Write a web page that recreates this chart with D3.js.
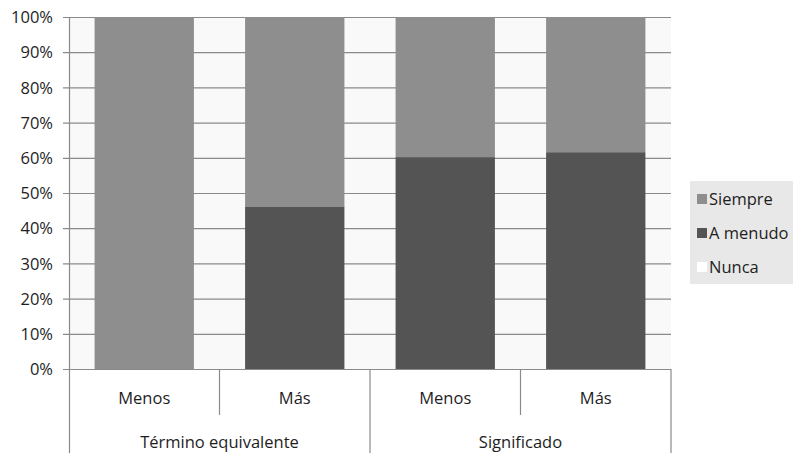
<!DOCTYPE html>
<html><head><meta charset="utf-8">
<script src="https://cdn.jsdelivr.net/npm/d3@7"></script>
<style>body{margin:0;background:#fff}svg{display:block}text{font-family:"Open Sans","Liberation Sans",sans-serif;fill:#1e1e1e}</style>
</head><body><svg id="c" width="793" height="453"></svg>
<script>
const categories = ["Menos", "Más", "Menos", "Más"];
const groups = ["Término equivalente", "Significado"];
const groupOf = [0, 0, 1, 1];
const nunca = [0, 0, 0, 0];
const aMenudo = [0, 46.2, 60.2, 61.6];
const siempre = [100, 53.8, 39.8, 38.4];
const seriesNames = ["Nunca", "A menudo", "Siempre"];
const yTicks = [0, 10, 20, 30, 40, 50, 60, 70, 80, 90, 100];
const colors = {"Nunca": "#ffffff", "A menudo": "#545454", "Siempre": "#8e8e8e"};

const svg = d3.select("#c");
const L = 69, R = 671, T = 17, B = 369;
const FS = "16.5px";
const x = d3.scaleBand().domain(d3.range(categories.length)).range([L, R]).paddingInner(0.34).paddingOuter(0.17);
const y = d3.scaleLinear().domain([0, 100]).range([B, T]);

svg.append("rect").attr("x", L).attr("y", T).attr("width", R - L).attr("height", B - T).attr("fill", "#f9f9f9");

// gridlines
svg.append("g").selectAll("line").data(yTicks).join("line")
  .attr("x1", L - 6).attr("x2", R).attr("y1", d => y(d) + 0.5).attr("y2", d => y(d) + 0.5)
  .attr("stroke", "#8a8a8a").attr("stroke-width", 1.2);

// stacked bars
const data = categories.map((c, i) => ({i, "Nunca": nunca[i], "A menudo": aMenudo[i], "Siempre": siempre[i]}));
const stack = d3.stack().keys(seriesNames)(data);
svg.append("g").selectAll("g").data(stack).join("g").attr("fill", s => colors[s.key])
  .selectAll("rect").data(s => s).join("rect")
  .attr("x", d => x(d.data.i)).attr("width", x.bandwidth())
  .attr("y", d => y(d[1])).attr("height", d => y(d[0]) - y(d[1]));

// y labels
const yAxis = d3.axisLeft(y).tickValues(yTicks).tickSize(0).tickPadding(16).tickFormat(d => d + "%");
const ya = svg.append("g").attr("transform", `translate(${L},0)`).call(yAxis);
ya.select(".domain").remove();
ya.selectAll("text").style("font-size", FS).style("font-family", "'Open Sans','Liberation Sans',sans-serif").attr("fill", "#1e1e1e").attr("dy", "0.35em");

// left axis line
svg.append("line").attr("x1", L + 0.5).attr("x2", L + 0.5).attr("y1", T).attr("y2", 453).attr("stroke", "#8a8a8a").attr("stroke-width", 1.2);

// category separators
const catEdges = d3.range(categories.length + 1).map(k => L + k * (R - L) / categories.length);
catEdges.forEach((cx, k) => {
  if (k === 0) return;
  const isGroup = k === categories.length || groupOf[k] !== groupOf[k - 1];
  svg.append("line").attr("x1", cx).attr("x2", cx).attr("y1", B).attr("y2", isGroup ? 453 : 415)
    .attr("stroke", "#8a8a8a").attr("stroke-width", 1.2);
});

// category labels
svg.append("g").selectAll("text").data(categories).join("text")
  .attr("x", (d, i) => x(i) + x.bandwidth() / 2).attr("y", 404)
  .attr("text-anchor", "middle").style("font-size", FS).text(d => d);

// group labels
groups.forEach((g, gi) => {
  const idx = categories.map((c, i) => i).filter(i => groupOf[i] === gi);
  const x0 = catEdges[idx[0]], x1 = catEdges[idx[idx.length - 1] + 1];
  svg.append("text").attr("x", (x0 + x1) / 2).attr("y", 448).attr("text-anchor", "middle")
    .style("font-size", FS).text(g);
});

// legend
const lg = svg.append("g");
lg.append("rect").attr("x", 690).attr("y", 181).attr("width", 103).attr("height", 103).attr("fill", "#e8e8e8");
const legItems = ["Siempre", "A menudo", "Nunca"];
legItems.forEach((k, i) => {
  const yy = 199 + i * 34;
  lg.append("rect").attr("x", 697).attr("y", yy - 5).attr("width", 10).attr("height", 10).attr("fill", colors[k]);
  lg.append("text").attr("x", 709).attr("y", yy).attr("dy", "0.35em").style("font-size", FS).text(k);
});
</script></body></html>
